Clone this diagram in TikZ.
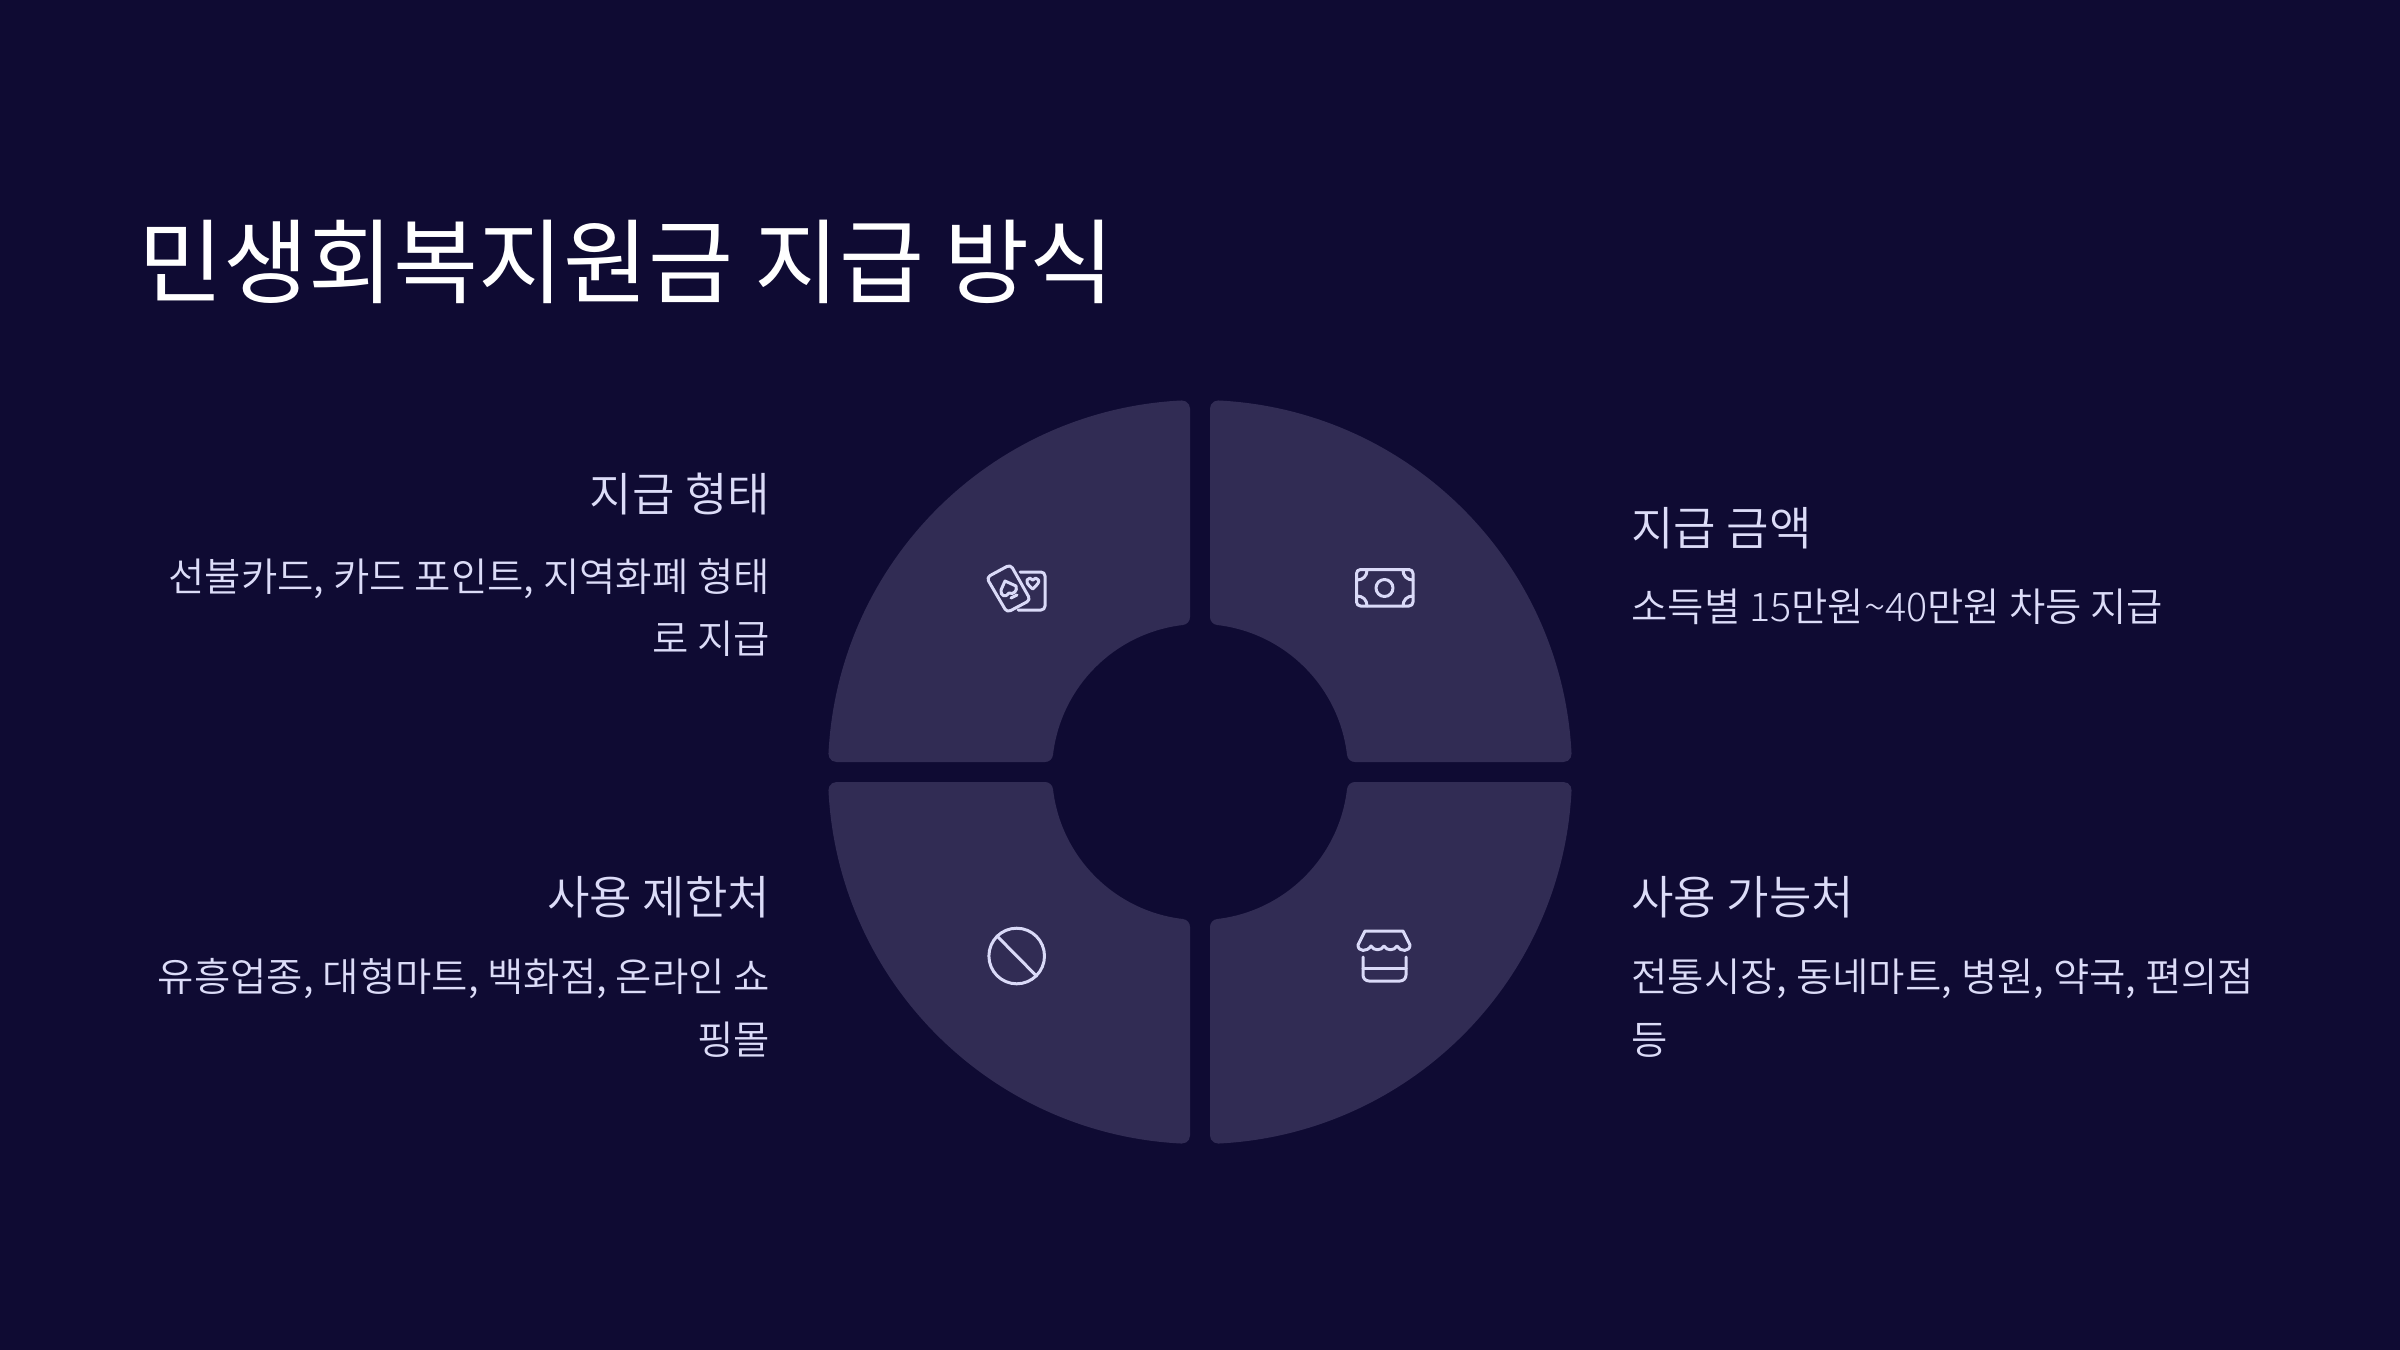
\documentclass[tikz,border=0pt]{standalone}
\usepackage{fontspec}
\setmainfont{Noto Sans CJK KR}
\newfontfamily\lightf{Noto Sans CJK KR DemiLight}
\newfontfamily\thinf{Noto Sans CJK KR Light}
\definecolor{bgc}{HTML}{0F0B33}
\definecolor{seg}{HTML}{312C54}
\definecolor{txt}{HTML}{DCDCF8}
\definecolor{ico}{HTML}{DADAF8}
\newcommand{\quadseg}{%
  \fill[seg] (10,363.55) arc[start angle=180,end angle=87.166,radius=8]
    arc[start angle=87.166,end angle=2.834,radius=372]
    arc[start angle=2.834,end angle=-90,radius=8]
    -- (154.96,10)
    arc[start angle=-90,end angle=-173.374,radius=8]
    arc[start angle=6.626,end angle=83.374,radius=148]
    arc[start angle=263.374,end angle=180,radius=8]
    -- cycle;}
\tikzset{
  icon/.style={draw=ico,line width=1.5pt,line cap=round,line join=round},
  head/.style={text=txt,inner sep=0pt,font=\lightf\fontsize{23.1}{28}\selectfont},
  body/.style={text=txt,inner sep=0pt,font=\lightf\fontsize{19.75}{24}\selectfont},
}
\begin{document}
\begin{tikzpicture}[x=0.5pt,y=-0.5pt]
\path[use as bounding box,fill=bgc] (0,0) rectangle (2400,1350);
% ring
\begin{scope}[shift={(1200,772)}]
 \begin{scope}[yscale=-1]\quadseg\end{scope}
 \begin{scope}[xscale=-1,yscale=-1]\quadseg\end{scope}
 \begin{scope}\quadseg\end{scope}
 \begin{scope}[xscale=-1]\quadseg\end{scope}
\end{scope}
% title
\node[anchor=base west,text=white,inner sep=0pt,font=\fontsize{46.2}{50}\selectfont] (title) at (138,296) {민생회복지원금 지급 방식};
% left
\node[head,anchor=base east] (h1) at (770.5,511.5) {지급 형태};
\node[body,anchor=base east] (b1a) at (770.5,591) {선불카드, 카드 포인트, 지역화폐 형태};
\node[body,anchor=base east] (b1b) at (770.5,653) {로 지급};
\node[head,anchor=base east] (h2) at (770.5,914) {사용 제한처};
\node[body,anchor=base east] (b2a) at (770.5,991) {유흥업종, 대형마트, 백화점, 온라인 쇼};
\node[body,anchor=base east] (b2b) at (770.5,1054) {핑몰};
% right
\node[head,anchor=base west] (h3) at (1631,545) {지급 금액};
\node[body,anchor=base west] (b3a) at (1631,621) {소득별 {\thinf 15}만원{\thinf\textasciitilde 40}만원 차등 지급};
\node[head,anchor=base west] (h4) at (1631,914) {사용 가능처};
\node[body,anchor=base west] (b4a) at (1631,991) {전통시장, 동네마트, 병원, 약국, 편의점};
\node[body,anchor=base west] (b4b) at (1631,1054) {등};
% money icon
\draw[icon,rounded corners=2pt] (1356.5,569.5) rectangle (1413,606);
\draw[icon] (1384.5,588) circle[radius=8.5];
\draw[icon] (1357,580) .. controls (1363,580) and (1367,576) .. (1367,570);
\draw[icon] (1413,580) .. controls (1407,580) and (1403,576) .. (1403,570);
\draw[icon] (1357,596) .. controls (1363,596) and (1367,600) .. (1367,606);
\draw[icon] (1413,596) .. controls (1407,596) and (1403,600) .. (1403,606);
% ban icon
\draw[icon] (1016.7,956) circle[radius=27.8];
\draw[icon] (997,936) -- (1036.5,976);
% store icon
\draw[icon] (1365,931) -- (1403,931) -- (1410,945)
  .. controls (1410,952) and (1400,952) .. (1397,946)
  .. controls (1394,951) and (1387,951) .. (1384,946)
  .. controls (1381,951) and (1374,951) .. (1371,946)
  .. controls (1367,952) and (1358,952) .. (1358,945) -- cycle;
\draw[icon,rounded corners=3pt] (1363,957) -- (1363,981) -- (1406,981) -- (1406,957);
\draw[icon] (1363,968) -- (1406,968);
% cards icon
\draw[icon,rounded corners=2pt] (1020,572) -- (1045,572) -- (1045,610) -- (1018,610);
\draw[icon] (1032.7,589) .. controls (1027,584) and (1026,582) .. (1027,580)
  .. controls (1028,577.5) and (1031.5,577.5) .. (1032.7,580)
  .. controls (1034,577.5) and (1037.5,577.5) .. (1038.5,580)
  .. controls (1039.5,582) and (1038,584) .. (1032.7,589) -- cycle;
\draw[icon,rounded corners=2pt] (986.5,577.5) -- (1010.5,564.5) -- (1030.5,600) -- (1007,612.5) -- cycle;
\draw[icon] (1005,581) -- (1001,590) .. controls (1000,596) and (1006,598) .. (1009,593)
  .. controls (1013,595) and (1018,591) .. (1016,586) -- cycle;
\draw[icon] (1011,598) -- (1017,595);
\end{tikzpicture}
\end{document}
